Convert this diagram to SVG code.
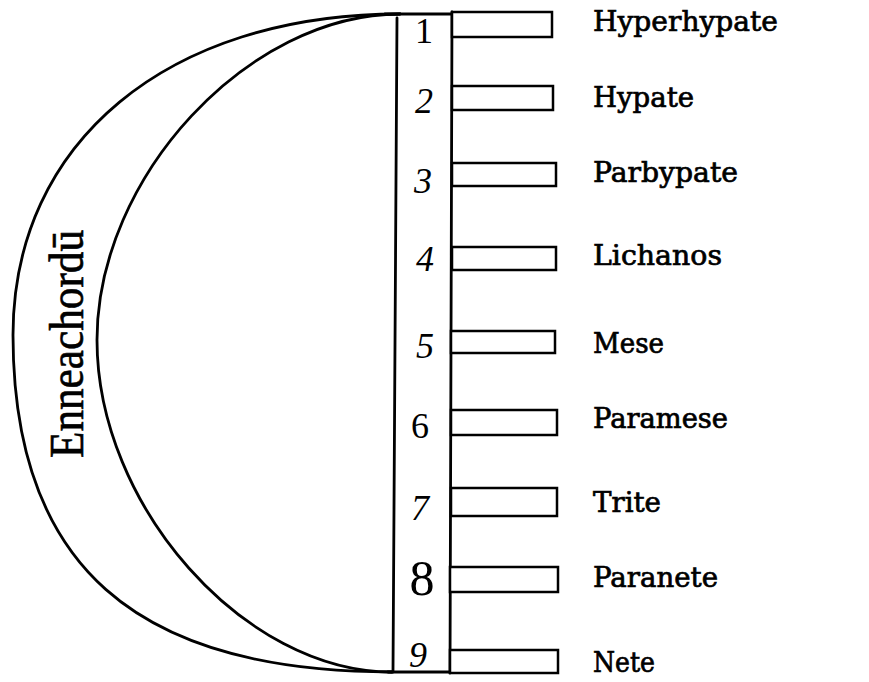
<svg xmlns="http://www.w3.org/2000/svg" width="869" height="682" viewBox="0 0 869 682">
<style>
.ln{fill:none;stroke:#000;stroke-width:2.8;stroke-linecap:round;stroke-linejoin:round}
.box{fill:#fff;stroke:#000;stroke-width:2.5}
.lab{font-family:"DejaVu Serif","Liberation Serif",serif;font-size:27px;fill:#000;stroke:#000;stroke-width:0.7}
.num{font-family:"Liberation Serif","DejaVu Serif",serif;font-size:36px;fill:#000;font-style:italic;text-anchor:middle}
.title{font-family:"Liberation Serif","DejaVu Serif",serif;font-size:48px;fill:#000;stroke:#000;stroke-width:0.6}
</style>
<rect width="869" height="682" fill="#fff"/>
<g id="crescent">
<path class="ln" d="M400,14 C168,14 13,142 13,335 C13,564 134,672 392,672"/>
<path class="ln" d="M400,14 C248,14 97,177 97,340 C97,506 244,672 392,672"/>
<text class="title" transform="translate(83,458) rotate(-90)" textLength="228" lengthAdjust="spacingAndGlyphs">Enneachordū</text>
</g>
<g id="bar">
<path class="ln" d="M385,14 L452,14"/>
<path class="ln" d="M388,672 L452,672"/>
<path class="ln" d="M397,18 L393,672"/>
<path class="ln" d="M452,12 L450,673"/>
</g>
<g id="connectors"></g>
<g id="n1"><rect class="box" x="452" y="12" width="100" height="25"/><text class="num" x="424" y="43" style="font-style:normal">1</text><text class="lab" x="593" y="31" textLength="185" lengthAdjust="spacingAndGlyphs">Hyperhypate</text></g>
<g id="n2"><rect class="box" x="452" y="86" width="101" height="24"/><text class="num" x="424" y="113">2</text><text class="lab" x="593" y="107" textLength="101" lengthAdjust="spacingAndGlyphs">Hypate</text></g>
<g id="n3"><rect class="box" x="452" y="163" width="104" height="23"/><text class="num" x="423" y="193">3</text><text class="lab" x="593" y="182" textLength="145" lengthAdjust="spacingAndGlyphs">Parbypate</text></g>
<g id="n4"><rect class="box" x="452" y="247" width="104" height="23"/><text class="num" x="425" y="271">4</text><text class="lab" x="593" y="265" textLength="129" lengthAdjust="spacingAndGlyphs">Lichanos</text></g>
<g id="n5"><rect class="box" x="451" y="331" width="104" height="22"/><text class="num" x="425" y="358">5</text><text class="lab" x="593" y="353" textLength="71" lengthAdjust="spacingAndGlyphs">Mese</text></g>
<g id="n6"><rect class="box" x="451" y="410" width="106" height="25"/><text class="num" x="420" y="438" style="font-style:normal">6</text><text class="lab" x="593" y="428" textLength="135" lengthAdjust="spacingAndGlyphs">Paramese</text></g>
<g id="n7"><rect class="box" x="451" y="488" width="106" height="28"/><text class="num" x="420" y="520">7</text><text class="lab" x="593" y="512" textLength="68" lengthAdjust="spacingAndGlyphs">Trite</text></g>
<g id="n8"><rect class="box" x="450" y="567" width="108" height="25"/><text class="num" x="422" y="595" style="font-style:normal;font-size:50px">8</text><text class="lab" x="593" y="587" textLength="125" lengthAdjust="spacingAndGlyphs">Paranete</text></g>
<g id="n9"><rect class="box" x="450" y="650" width="108" height="23"/><text class="num" x="418" y="667">9</text><text class="lab" x="593" y="672" textLength="62" lengthAdjust="spacingAndGlyphs">Nete</text></g>
</svg>
